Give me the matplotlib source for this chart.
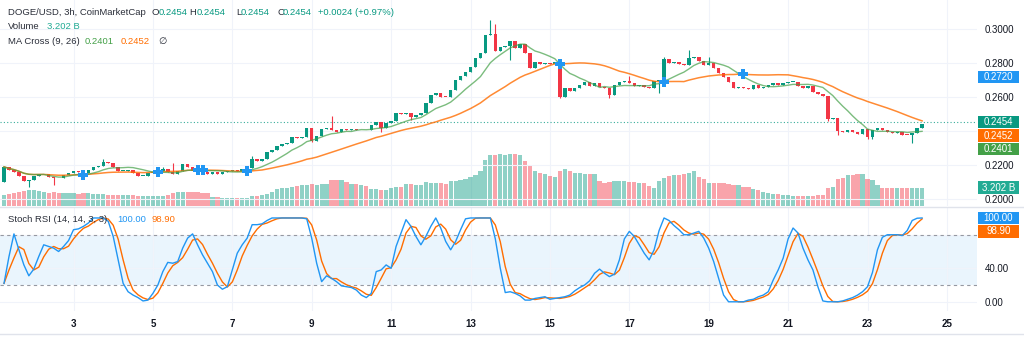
import numpy as np
import pandas as pd
import matplotlib
matplotlib.use("Agg")
import matplotlib.pyplot as plt
from matplotlib.patches import Rectangle
from matplotlib.lines import Line2D

plt.rcParams['font.family'] = ['Liberation Sans', 'DejaVu Sans']

# ---------------- data ----------------
FIRST_DAY = 1.25          # day-of-month of first 3h candle
BAR_DAYS = 0.125          # 3h candles
FIRST_OPEN = 0.2102

CLOSE = [
    0.2190, 0.2170, 0.2160, 0.2135, 0.2105, 0.2115, 0.2135, 0.2145, 0.2150, 0.2130,
    0.2125, 0.2122, 0.2140, 0.2155, 0.2165, 0.2158, 0.2155, 0.2170, 0.2190, 0.2195,
    0.2220, 0.2212, 0.2190, 0.2165, 0.2167, 0.2172, 0.2155, 0.2135, 0.2138, 0.2155,
    0.2157, 0.2165, 0.2175, 0.2158, 0.2150, 0.2165, 0.2205, 0.2190, 0.2168, 0.2163,
    0.2160, 0.2148, 0.2158, 0.2145, 0.2158, 0.2168, 0.2170, 0.2165, 0.2175, 0.2185,
    0.2235, 0.2225, 0.2235, 0.2275, 0.2290, 0.2315, 0.2325, 0.2330, 0.2365, 0.2360,
    0.2366, 0.2420, 0.2344, 0.2373, 0.2413, 0.2418, 0.2405, 0.2395, 0.2413, 0.2410,
    0.2415, 0.2405, 0.2410, 0.2406, 0.2437, 0.2452, 0.2417, 0.2447, 0.2460, 0.2505,
    0.2500, 0.2505, 0.2486, 0.2495, 0.2510, 0.2565, 0.2613, 0.2625, 0.2604, 0.2602,
    0.2643, 0.2702, 0.2726, 0.2751, 0.2780, 0.2830, 0.2860, 0.2968, 0.2975, 0.2873,
    0.2899, 0.2905, 0.2932, 0.2893, 0.2915, 0.2860, 0.2771, 0.2810, 0.2795, 0.2800,
    0.2795, 0.2808, 0.2604, 0.2653, 0.2635, 0.2657, 0.2673, 0.2688, 0.2667, 0.2682,
    0.2663, 0.2653, 0.2613, 0.2673, 0.2690, 0.2698, 0.2682, 0.2667, 0.2675, 0.2660,
    0.2655, 0.2698, 0.2700, 0.2826, 0.2801, 0.2810, 0.2795, 0.2790, 0.2830, 0.2838,
    0.2816, 0.2790, 0.2805, 0.2771, 0.2742, 0.2722, 0.2692, 0.2657, 0.2660, 0.2653,
    0.2650, 0.2673, 0.2655, 0.2660, 0.2670, 0.2685, 0.2675, 0.2685, 0.2690, 0.2693,
    0.2667, 0.2655, 0.2668, 0.2633, 0.2622, 0.2610, 0.2470, 0.2475, 0.2401, 0.2395,
    0.2410, 0.2395, 0.2385, 0.2413, 0.2368, 0.2405, 0.2418, 0.2405, 0.2398, 0.2388,
    0.2395, 0.2380, 0.2378, 0.2392, 0.2417, 0.2440,
]

HIGH_WICKS = {20: 0.2238, 32: 0.2190, 34: 0.2212, 50: 0.2255, 66: 0.2490, 98: 0.3056,
              99: 0.3031, 126: 0.2727, 133: 0.2840, 138: 0.2879, 142: 0.2840}
LOW_WICKS = {5: 0.2070, 10: 0.2080, 53: 0.2262, 62: 0.2335, 76: 0.2398, 82: 0.2467,
             102: 0.2820, 112: 0.2598, 122: 0.2594, 132: 0.2624, 166: 0.2462,
             168: 0.2375, 174: 0.2355, 175: 0.2352, 183: 0.2328}

VOLUME_B = [
    1.86, 2.04, 2.21, 2.45, 2.62, 2.79, 2.79, 2.62, 2.50, 2.21,
    2.45, 2.33, 2.21, 2.21, 2.21, 2.15, 2.21, 2.21, 2.04, 2.04,
    2.04, 1.92, 1.92, 1.86, 1.86, 1.86, 1.86, 1.75, 1.75, 1.75,
    1.75, 1.69, 1.69, 1.86, 2.21, 2.45, 2.45, 2.45, 2.45, 2.45,
    2.21, 2.21, 1.57, 1.57, 1.46, 1.34, 1.34, 1.34, 1.34, 1.34,
    1.75, 1.75, 1.86, 2.15, 2.45, 2.91, 3.09, 3.09, 3.32, 3.49,
    3.61, 3.67, 3.90, 3.67, 3.78, 3.78, 4.54, 4.54, 4.54, 4.25,
    3.90, 3.78, 3.67, 3.49, 2.91, 2.91, 2.79, 2.79, 3.20, 3.38,
    3.38, 3.78, 3.78, 3.67, 3.67, 4.25, 4.08, 4.08, 4.08, 3.78,
    4.37, 4.37, 4.54, 4.77, 5.12, 5.36, 6.11, 8.03, 8.91, 8.91,
    9.02, 8.91, 9.02, 9.02, 8.91, 7.86, 6.99, 6.11, 5.82, 5.65,
    5.24, 5.07, 6.11, 6.40, 6.11, 5.71, 5.82, 5.65, 5.53, 5.53,
    4.37, 4.08, 4.25, 4.37, 4.37, 4.37, 4.25, 4.25, 4.08, 3.96,
    3.49, 3.20, 4.37, 4.83, 5.24, 5.36, 5.36, 5.53, 5.82, 6.11,
    5.07, 4.66, 4.08, 4.08, 4.08, 3.96, 3.78, 3.61, 3.61, 3.32,
    3.38, 3.03, 2.79, 2.50, 2.33, 2.15, 2.04, 1.92, 1.86, 1.75,
    1.75, 1.75, 1.75, 1.75, 1.86, 1.86, 3.09, 3.38, 4.66, 4.95,
    5.36, 5.41, 5.53, 5.53, 4.66, 4.54, 3.61, 3.20, 3.20, 3.20,
    3.09, 3.09, 3.09, 3.20, 3.20, 3.202,
]

STOCH_K = [
    22, 54, 81, 62, 44, 31, 39, 54, 68, 66,
    64, 60, 66, 73, 86, 87, 90, 94, 100, 100,
    100, 96, 78, 50, 22, 12, 8, 5, 1, 2,
    10, 20, 36, 47, 46, 48, 64, 76, 81, 68,
    56, 46, 36, 20, 15, 18, 38, 58, 68, 76,
    92, 92, 93, 97, 100, 100, 100, 100, 100, 100,
    100, 99, 76, 46, 24, 31, 28, 24, 19, 18,
    17, 14, 8, 5, 10, 36, 38, 44, 40, 66,
    82, 98, 90, 78, 68, 78, 90, 100, 88, 72,
    62, 72, 86, 99, 100, 100, 100, 100, 100, 75,
    40, 11, 12, 10, 7, 2, 2, 4, 5, 6,
    3, 4, 5, 6, 8, 13, 17, 20, 25, 34,
    39, 34, 30, 33, 50, 75, 84, 78, 68, 58,
    50, 62, 85, 100, 97, 91, 86, 80, 80, 82,
    84, 76, 64, 48, 28, 8, 0, 0, 0, 0,
    2, 3, 6, 8, 12, 26, 38, 52, 75, 88,
    82, 64, 50, 38, 18, 1, 0, 0, 0, 1,
    3, 5, 8, 12, 18, 35, 62, 77, 80, 80,
    80, 79, 85, 97, 99.7, 100,
]

LAST_PRICE = 0.2454
CHANGE = 0.0024
CHANGE_PCT = 0.97
MA_FAST_LAST = 0.2401
MA_SLOW_LAST = 0.2452
VOL_LAST = 3.202
CROSS_LAST = 0.2720
K_LAST = 100.00
D_LAST = 98.90

DAY_TICKS = [3, 5, 7, 9, 11, 13, 15, 17, 19, 21, 23, 25]
PRICE_TICKS = [0.20, 0.22, 0.24, 0.26, 0.28, 0.30]
STOCH_TICKS = [0, 40, 80]

# ---------------- derived ----------------
close = np.array(CLOSE)
n = len(close)
t = FIRST_DAY + np.arange(n) * BAR_DAYS
opn = np.concatenate([[FIRST_OPEN], close[:-1]])
high = np.maximum(opn, close)
low = np.minimum(opn, close)
for k, v in HIGH_WICKS.items():
    high[k] = max(high[k], v)
for k, v in LOW_WICKS.items():
    low[k] = min(low[k], v)
up = close >= opn

ma_fast = pd.Series(close).rolling(9, min_periods=1).mean().values
ma_slow = pd.Series(close).rolling(26, min_periods=1).mean().values
k_line = np.array(STOCH_K, dtype=float)
d_line = pd.Series(k_line).rolling(3, min_periods=1).mean().values

# ---------------- style ----------------
GREEN = '#089981'
RED = '#f23645'
TEXT = '#131722'
GRID = '#f0f3fa'
W, H = 1024, 337


def fx(px):
    return px / W


def fy(py):
    return 1 - py / H


fig = plt.figure(figsize=(W / 100, H / 100), dpi=100)
fig.patch.set_facecolor('white')

PLOT_RIGHT = 977
PRICE_TOP, PRICE_BOT = 0, 206
STOCH_TOP, STOCH_BOT = 208, 311
XLIM = (1.1486, 25.758)

rect_price = [0, fy(PRICE_BOT), fx(PLOT_RIGHT), (PRICE_BOT - PRICE_TOP) / H]
axv = fig.add_axes(rect_price)
ax = fig.add_axes(rect_price, sharex=axv)
ax.patch.set_visible(False)
axs = fig.add_axes([0, fy(STOCH_BOT), fx(PLOT_RIGHT), (STOCH_BOT - STOCH_TOP) / H], sharex=axv)

for a in (ax, axv, axs):
    for s in a.spines.values():
        s.set_visible(False)

axv.set_xlim(*XLIM)
axv.set_xticks(DAY_TICKS)

# volume
vol_colors = [GREEN if u else RED for u in up]
axv.bar(t, VOLUME_B, width=0.106, color=vol_colors, alpha=0.45, linewidth=0)
axv.set_ylim(0, 36)
axv.set_yticks([])
axv.tick_params(axis='x', length=0, labelbottom=False)
axv.grid(axis='x', color=GRID, lw=0.8)
axv.set_axisbelow(True)

# price
ax.set_ylim(0.19587, 0.31740)
ax.yaxis.tick_right()
ax.set_yticks(PRICE_TICKS)
ax.tick_params(axis='y', length=0, pad=5.8, labelsize=7, labelcolor=TEXT)
ax.tick_params(axis='x', length=0, labelbottom=False)
ax.grid(axis='y', color=GRID, lw=0.8)
ax.set_axisbelow(True)

cc = [GREEN if u else RED for u in up]
ax.vlines(t, low, high, colors=cc, lw=0.8, zorder=3)
body_lo = np.minimum(opn, close)
body_h = np.maximum(np.abs(close - opn), 0.0004)
ax.bar(t, body_h, bottom=body_lo, width=0.088, color=cc, linewidth=0, zorder=3)

ax.plot(t, ma_slow, color='#ff6d00', lw=1.1, alpha=0.8, zorder=4)
ax.plot(t, ma_fast, color='#43a047', lw=1.0, alpha=0.7, zorder=4)

diff = np.sign(ma_fast - ma_slow)
cross_idx = [i for i in range(1, n) if diff[i] != 0 and diff[i - 1] != 0 and diff[i] != diff[i - 1]]
ax.plot(t[cross_idx], ma_slow[cross_idx], linestyle='none', marker='P', ms=7.5,
        color='#2196f3', mew=0, zorder=5)

ax.axhline(LAST_PRICE, color=GREEN, lw=0.8, ls=(0, (1, 2)), alpha=0.8, zorder=2)

# stoch rsi
axs.set_ylim(-11.0, 111.9)
axs.axhspan(20, 80, color='#2196f3', alpha=0.09, lw=0, zorder=0)
axs.axhline(80, color='#9598a1', lw=0.8, ls=(0, (3, 3)), zorder=1)
axs.axhline(20, color='#9598a1', lw=0.8, ls=(0, (3, 3)), zorder=1)
axs.yaxis.tick_right()
axs.set_yticks(STOCH_TICKS)
axs.tick_params(axis='y', length=0, pad=5.8, labelsize=7, labelcolor=TEXT)
axs.set_xticks(DAY_TICKS)
axs.set_xticklabels([str(d) for d in DAY_TICKS], fontweight='bold')
axs.tick_params(axis='x', length=0, pad=5.5, labelsize=7, labelcolor=TEXT)
axs.grid(True, color=GRID, lw=0.8)
axs.set_axisbelow(True)
axs.plot(t, d_line, color='#ff6d00', lw=1.0, zorder=3)
axs.plot(t, k_line, color='#2196f3', lw=1.0, zorder=4)

# separators
for py, col in ((207, '#e0e3eb'), (334, '#e0e3eb')):
    fig.add_artist(Line2D([0, 1], [fy(py), fy(py)], transform=fig.transFigure, color=col, lw=1))


# ---------------- value tags on the right scale ----------------
def val_px(axis, val):
    _, yd = axis.transData.transform((XLIM[0], val))
    return H - yd


tag_centers = []


def draw_tag(py, text, color):
    tag_centers.append(py)
    fig.add_artist(Rectangle((fx(978), fy(py + 6.4)), fx(41), 12.8 / H, transform=fig.transFigure,
                             facecolor=color, edgecolor='none', zorder=10))
    fig.text(fx(998.5), fy(py), text, ha='center', va='center', color='white',
             fontsize=7, zorder=11)


def stacked(items, step=13.5):
    items = sorted(items, key=lambda it: it[0])
    out = []
    prev = -1e9
    for py, txt, col in items:
        if py < prev + step:
            py = prev + step
        out.append((py, txt, col))
        prev = py
    return out


draw_tag(val_px(ax, CROSS_LAST), f'{CROSS_LAST:.4f}', '#2196f3')
for py, txt, col in stacked([
        (val_px(ax, LAST_PRICE), f'{LAST_PRICE:.4f}', GREEN),
        (val_px(ax, MA_SLOW_LAST), f'{MA_SLOW_LAST:.4f}', '#ff6d00'),
        (val_px(ax, MA_FAST_LAST), f'{MA_FAST_LAST:.4f}', '#43a047')]):
    draw_tag(py, txt, col)
draw_tag(val_px(axv, VOL_LAST), f'{VOL_LAST:.3f} B', '#22ab94')
for py, txt, col in stacked([
        (val_px(axs, K_LAST), f'{K_LAST:.2f}', '#2196f3'),
        (val_px(axs, D_LAST), f'{D_LAST:.2f}', '#ff6d00')]):
    draw_tag(py, txt, col)


# scale labels that sit under a value tag are hidden, as on the reference
def visible_labels(axis, ticks, fmt, near=8.0):
    out = []
    for v in ticks:
        py = val_px(axis, v)
        hidden = any(abs(py - c) < near for c in tag_centers)
        out.append('' if hidden else fmt.format(v))
    return out


ax.set_yticklabels(visible_labels(ax, PRICE_TICKS, '{:.4f}'))
axs.set_yticklabels(visible_labels(axs, STOCH_TICKS, '{:.2f}'))

# ---------------- legends ----------------
LFS = 6.8
LCOL = '#2a2e39'


def lt(px, py, s, color=LCOL):
    fig.text(fx(px), fy(py), s, ha='left', va='center', fontsize=LFS, color=color, zorder=12)


lt(8, 12.5, 'DOGE/USD, 3h, CoinMarketCap')
for px_lab, px_val, lab in ((152, 159, 'O'), (189, 197, 'H'), (236, 241, 'L'), (277, 283, 'C')):
    lt(px_lab, 12.5, lab)
    lt(px_val, 12.5, f'{LAST_PRICE:.4f}', GREEN)
lt(318, 12.5, f'+{CHANGE:.4f} (+{CHANGE_PCT:.2f}%)', GREEN)
lt(8, 26.5, 'Volume')
lt(47, 26.5, f'{VOL_LAST:.3f} B', '#22ab94')
lt(8, 41.5, 'MA Cross (9, 26)')
lt(85, 41.5, f'{MA_FAST_LAST:.4f}', '#43a047')
lt(121, 41.5, f'{MA_SLOW_LAST:.4f}', '#ff6d00')
lt(158, 41.5, '\u2205')
lt(8, 220, 'Stoch RSI (14, 14, 3, 3)')
lt(117, 220, f'{K_LAST:.2f}', '#2196f3')
lt(152, 220, f'{D_LAST:.2f}', '#ff6d00')

fig.savefig('out.png', dpi=100, facecolor='white')
